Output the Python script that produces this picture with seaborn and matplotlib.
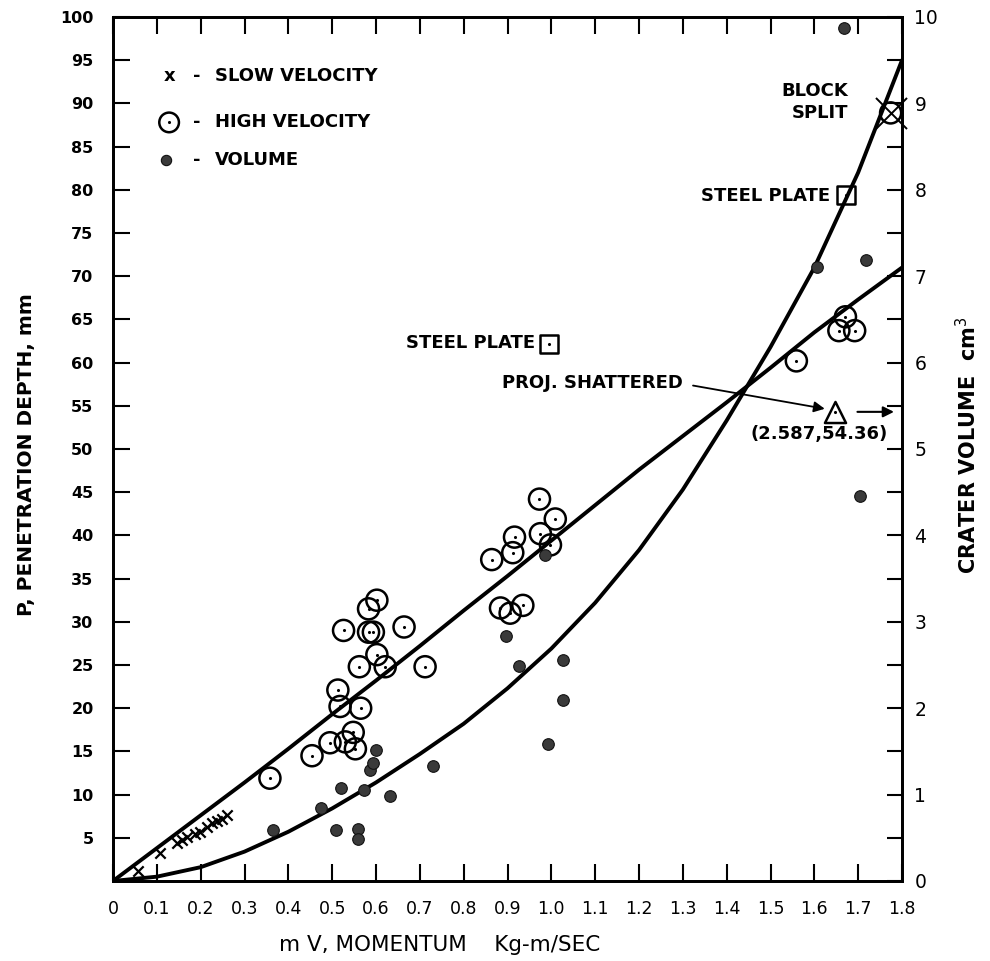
import matplotlib
matplotlib.use("Agg")
import matplotlib.pyplot as plt
import seaborn as sns
from matplotlib.ticker import FixedLocator

sns.set_style("white")
plt.rcParams['font.family'] = ['DejaVu Sans']
plt.rcParams.update({"text.color": "black", "axes.labelcolor": "black",
                     "xtick.color": "black", "ytick.color": "black",
                     "axes.edgecolor": "black"})

# ---------------- data ----------------
slow_x = [0.058, 0.107, 0.145, 0.157, 0.168, 0.187, 0.199, 0.214, 0.225, 0.237, 0.248, 0.26]
slow_p = [1.1, 3.2, 4.4, 4.7, 5.1, 5.4, 5.7, 6.3, 6.7, 6.9, 7.2, 7.6]

block_x = [1.774]
block_p = [88.9]

high_x = [0.358, 0.454, 0.495, 0.513, 0.518, 0.530, 0.548, 0.553, 0.565, 0.562,
          0.602, 0.621, 0.712, 0.526, 0.583, 0.594, 0.664, 0.583, 0.602, 0.864,
          0.912, 0.916, 0.884, 0.906, 0.935, 0.973, 1.009, 0.975, 0.998, 1.559,
          1.656, 1.671, 1.692, 1.774]
high_p = [11.9, 14.5, 16.0, 22.1, 20.2, 16.1, 17.2, 15.3, 20.0, 24.8,
          26.2, 24.8, 24.8, 29.0, 28.8, 28.8, 29.4, 31.5, 32.5, 37.2,
          38.0, 39.8, 31.6, 31.0, 31.9, 44.2, 41.9, 40.2, 38.9, 60.2,
          63.7, 65.3, 63.7, 88.9]

vol_x = [0.366, 0.475, 0.509, 0.520, 0.559, 0.559, 0.572, 0.587, 0.594, 0.600,
         0.632, 0.730, 0.896, 0.927, 0.986, 0.992, 1.027, 1.027, 1.607, 1.667,
         1.704, 1.717]
vol_v = [0.59, 0.84, 0.59, 1.08, 0.60, 0.49, 1.05, 1.28, 1.37, 1.52,
         0.98, 1.33, 2.83, 2.49, 3.77, 1.59, 2.56, 2.09, 7.11, 9.87,
         4.46, 7.19]

plate_x = [0.995, 1.673]
plate_p = [62.2, 79.4]

shatter_x = [1.648]
shatter_p = [54.3]

fit_x = [0.0, 0.1, 0.2, 0.3, 0.4, 0.5, 0.6, 0.7, 0.8, 0.9, 1.0, 1.1, 1.2, 1.3,
         1.4, 1.5, 1.6, 1.7, 1.8]
fit_pen = [0.0, 3.8, 7.6, 11.4, 15.3, 19.3, 23.2, 27.2, 31.3, 35.3, 39.4, 43.5,
           47.6, 51.5, 55.4, 59.4, 63.5, 67.3, 71.0]
fit_vol = [0.0, 0.05, 0.16, 0.34, 0.57, 0.84, 1.14, 1.47, 1.82, 2.23, 2.69, 3.22,
           3.83, 4.53, 5.33, 6.18, 7.10, 8.20, 9.50]

x_ticks = [0.0, 0.1, 0.2, 0.3, 0.4, 0.5, 0.6, 0.7, 0.8, 0.9, 1.0, 1.1, 1.2, 1.3,
           1.4, 1.5, 1.6, 1.7, 1.8]
x_labels = ["0", "0.1", "0.2", "0.3", "0.4", "0.5", "0.6", "0.7", "0.8", "0.9",
            "1.0", "1.1", "1.2", "1.3", "1.4", "1.5", "1.6", "1.7", "1.8"]
y_ticks = [5, 10, 15, 20, 25, 30, 35, 40, 45, 50, 55, 60, 65, 70, 75, 80, 85, 90, 95, 100]
y2_ticks = [0, 1, 2, 3, 4, 5, 6, 7, 8, 9, 10]
y2_minor = [0.5, 1.5, 2.5, 3.5, 4.5, 5.5, 6.5, 7.5, 8.5, 9.5]

# ---------------- figure ----------------
W, H = 990, 961
fig = plt.figure(figsize=(W / 100, H / 100), dpi=100)
L, R, T, B = 113, 902, 17, 881
ax = fig.add_axes([L / W, 1 - B / H, (R - L) / W, (B - T) / H])
ax2 = ax.twinx()

ax.set_xlim(0, 1.8)
ax.set_ylim(0, 100)
ax2.set_ylim(0, 10)

K = "black"
# fitted curves
sns.lineplot(x=fit_x, y=fit_pen, ax=ax, color=K, lw=2.8, sort=False)
sns.lineplot(x=fit_x, y=fit_vol, ax=ax2, color=K, lw=2.8, sort=False)

# high velocity (open circle with centre dot)
sns.scatterplot(x=high_x, y=high_p, ax=ax, marker="o", s=230, fc="none", ec=K,
                linewidth=1.8, zorder=5, clip_on=False)
sns.scatterplot(x=high_x, y=high_p, ax=ax, marker="o", s=5, color=K, linewidth=0, zorder=6)

# slow velocity
sns.scatterplot(x=slow_x, y=slow_p, ax=ax, marker="x", s=55, color=K, linewidth=1.6, zorder=5)
sns.scatterplot(x=block_x, y=block_p, ax=ax, marker="x", s=500, color=K, linewidth=1.4,
                zorder=5, clip_on=False)

# steel plate squares
sns.scatterplot(x=plate_x, y=plate_p, ax=ax, marker="s", s=170, fc="white", ec=K,
                linewidth=1.8, zorder=5)
sns.scatterplot(x=plate_x, y=plate_p, ax=ax, marker="o", s=5, color=K, linewidth=0, zorder=6)

# projectile shattered triangle
sns.scatterplot(x=shatter_x, y=shatter_p, ax=ax, marker="^", s=230, fc="white", ec=K,
                linewidth=1.8, zorder=5)
sns.scatterplot(x=shatter_x, y=shatter_p, ax=ax, marker="o", s=5, color=K, linewidth=0, zorder=6)

# volume dots (right axis)
sns.scatterplot(x=vol_x, y=vol_v, ax=ax2, marker="o", s=70, color="#3a3a3a", ec="#111111",
                linewidth=0.8, zorder=5, clip_on=False)

# ---------------- axes styling ----------------
for a in (ax, ax2):
    for sp in a.spines.values():
        sp.set_linewidth(2.0)
        sp.set_color(K)

ax.xaxis.set_major_locator(FixedLocator(x_ticks))
ax.set_xticklabels(x_labels, fontsize=12.5)
ax.set_yticks(y_ticks)
ax.set_yticklabels([str(v) for v in y_ticks], fontsize=11.5, fontweight="bold")
ax.tick_params(axis="x", direction="in", length=12, width=1.5, top=True, bottom=True,
               labeltop=False, pad=14)
ax.tick_params(axis="y", direction="in", length=12, width=1.5, left=True, right=False, pad=14)

ax2.set_yticks(y2_ticks)
ax2.set_yticklabels([str(v) for v in y2_ticks], fontsize=13.5)
ax2.yaxis.set_minor_locator(FixedLocator(y2_minor))
ax2.tick_params(axis="y", which="both", direction="in", length=11, width=1.5, pad=9)

ax.set_xlabel("m V, MOMENTUM    Kg-m/SEC", fontsize=15.5)
ax.xaxis.set_label_coords((440 - L) / (R - L), (B - 945) / (B - T))
ax.xaxis.label.set_va("center")
ax.set_ylabel("P, PENETRATION DEPTH, mm", fontsize=14.5, fontweight="bold")
ax.yaxis.set_label_coords((27 - L) / (R - L), (B - 455) / (B - T))
ax.yaxis.label.set_va("center")
ax2.set_ylabel("CRATER VOLUME  cm$^3$", fontsize=15, fontweight="bold")
ax2.yaxis.set_label_coords((968 - L) / (R - L), (B - 445) / (B - T))
ax2.yaxis.label.set_va("center")

# ---------------- annotations ----------------
tk = dict(fontsize=13, fontweight="bold", color=K, va="center")
# legend block
ax.text(0.130, 93.2, "x", ha="center", **tk)
ax.text(0.190, 93.2, "-", ha="center", **tk)
ax.text(0.233, 93.2, "SLOW VELOCITY", ha="left", **tk)
ax.scatter([0.128], [87.8], marker="o", s=200, fc="none", ec=K, lw=1.8, clip_on=False)
ax.scatter([0.128], [87.8], marker="o", s=5, c=K, lw=0)
ax.text(0.190, 87.8, "-", ha="center", **tk)
ax.text(0.233, 87.8, "HIGH VELOCITY", ha="left", **tk)
ax.scatter([0.121], [83.4], marker="o", s=55, c="#3a3a3a", ec="#111111", lw=0.8)
ax.text(0.190, 83.4, "-", ha="center", **tk)
ax.text(0.233, 83.4, "VOLUME", ha="left", **tk)

ax.text(1.678, 91.4, "BLOCK", ha="right", **tk)
ax.text(1.678, 88.9, "SPLIT", ha="right", **tk)
ax.text(1.635, 79.3, "STEEL PLATE", ha="right", **tk)
ax.text(0.962, 62.3, "STEEL PLATE", ha="right", **tk)
ax.text(1.300, 57.6, "PROJ. SHATTERED", ha="right", **tk)
ax.text(1.610, 51.7, "(2.587,54.36)", ha="center", **tk)

ax.annotate("", xy=(1.630, 54.6), xytext=(1.317, 57.4),
            arrowprops=dict(arrowstyle="-|>", color=K, lw=1.3, mutation_scale=16))
ax.annotate("", xy=(1.788, 54.3), xytext=(1.692, 54.3),
            arrowprops=dict(arrowstyle="-|>", color=K, lw=1.5, mutation_scale=16))

fig.savefig("out.png", dpi=100)
